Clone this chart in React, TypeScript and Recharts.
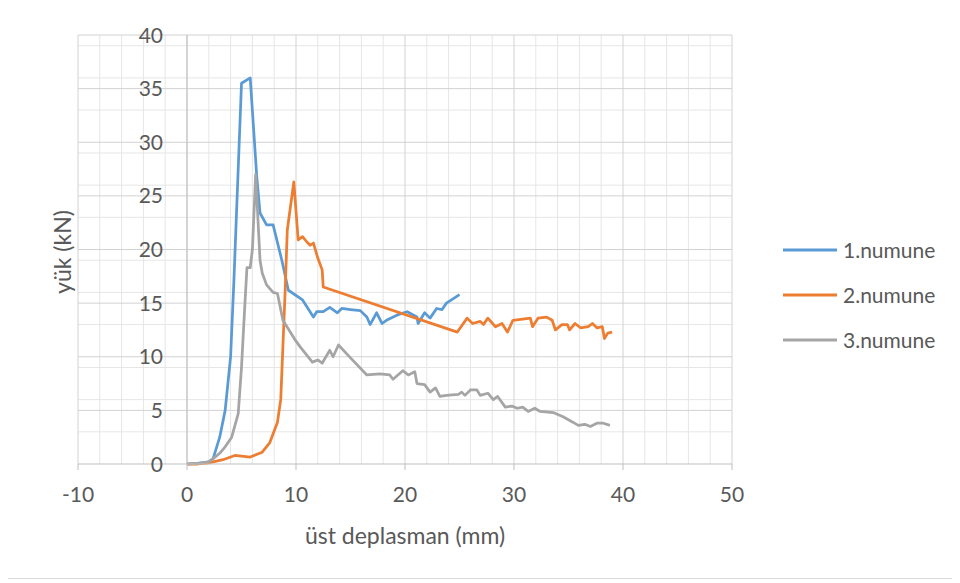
import React from "react";
import {
  LineChart,
  Line,
  XAxis,
  YAxis,
  CartesianGrid,
  ReferenceLine,
  Legend,
} from "recharts";

// 1.numune
const s1X = [0, 1, 2, 2.4, 3.0, 3.5, 4.0, 4.3, 5.0, 5.8, 6.4, 6.7, 7.3, 7.9, 8.7, 9.3, 10.6, 11.6, 11.9, 12.5, 13.1, 13.8, 14.2, 15.0, 15.9, 16.5, 16.8, 17.4, 17.9, 18.3, 19.3, 20.2, 21.1, 21.2, 21.8, 22.3, 22.9, 23.4, 23.8, 25.0];
const s1Y = [0, 0.05, 0.2, 0.5, 2.5, 5.0, 10.0, 17.0, 35.5, 36.0, 26.8, 23.4, 22.3, 22.3, 19.0, 16.2, 15.3, 13.7, 14.2, 14.2, 14.6, 14.1, 14.5, 14.4, 14.3, 13.7, 13.0, 14.1, 13.1, 13.4, 13.9, 14.2, 13.7, 13.1, 14.1, 13.6, 14.5, 14.4, 15.0, 15.8];

// 2.numune
const s2X = [0, 1, 2, 3.3, 4.4, 5.8, 6.9, 7.6, 8.3, 8.6, 8.8, 9.0, 9.2, 9.8, 10.2, 10.6, 11.0, 11.3, 11.6, 12.0, 12.4, 12.5, 24.8, 25.7, 26.2, 26.9, 27.2, 27.6, 28.3, 28.9, 29.4, 29.9, 31.5, 31.7, 32.2, 33.0, 33.5, 33.8, 34.4, 34.9, 35.1, 35.6, 36.1, 36.8, 37.2, 37.6, 38.1, 38.3, 38.6, 39.0];
const s2Y = [0, 0, 0.1, 0.4, 0.8, 0.65, 1.1, 2.0, 3.9, 6.0, 11.0, 16.0, 21.8, 26.3, 20.9, 21.2, 20.7, 20.4, 20.6, 19.2, 18.1, 16.5, 12.3, 13.6, 13.1, 13.3, 13.0, 13.6, 12.8, 13.1, 12.3, 13.4, 13.6, 12.8, 13.6, 13.7, 13.4, 12.5, 13.0, 13.0, 12.5, 13.1, 12.7, 12.8, 13.1, 12.7, 12.8, 11.7, 12.2, 12.3];

// 3.numune
const s3X = [0, 1, 2, 2.4, 3.0, 3.5, 4.1, 4.7, 5.0, 5.3, 5.5, 5.8, 6.0, 6.3, 6.7, 6.9, 7.3, 7.9, 8.3, 8.8, 9.9, 10.4, 11.5, 12.0, 12.4, 13.1, 13.4, 13.9, 15.0, 16.5, 17.7, 18.6, 18.9, 19.8, 20.3, 20.9, 21.1, 21.8, 22.3, 22.8, 23.2, 23.8, 24.9, 25.2, 25.5, 26.0, 26.6, 26.9, 27.6, 28.1, 28.5, 29.2, 29.8, 30.3, 30.8, 31.3, 31.9, 32.4, 33.6, 34.5, 35.4, 35.9, 36.5, 37.0, 37.6, 38.2, 38.8];
const s3Y = [0, 0.05, 0.2, 0.5, 1.0, 1.6, 2.5, 4.7, 9.0, 14.7, 18.3, 18.3, 20.0, 27.0, 19.0, 17.8, 16.7, 16.0, 15.9, 13.4, 11.6, 10.9, 9.5, 9.7, 9.4, 10.6, 10.0, 11.1, 9.9, 8.3, 8.4, 8.3, 7.9, 8.7, 8.3, 8.6, 7.5, 7.4, 6.7, 7.1, 6.3, 6.4, 6.5, 6.7, 6.4, 6.9, 6.9, 6.4, 6.6, 6.0, 6.3, 5.3, 5.4, 5.2, 5.3, 4.9, 5.2, 4.9, 4.8, 4.4, 3.9, 3.6, 3.7, 3.5, 3.8, 3.8, 3.6];

const seriesNames = ["1.numune", "2.numune", "3.numune"];
const seriesColors = ["#5B9BD5", "#ED7D31", "#A5A5A5"];

const xTicks = [-10, 0, 10, 20, 30, 40, 50];
const yTicks = [0, 5, 10, 15, 20, 25, 30, 35, 40];
const xMinor = [-8, -6, -4, -2, 2, 4, 6, 8, 12, 14, 16, 18, 22, 24, 26, 28, 32, 34, 36, 38, 42, 44, 46, 48];
const yMinor = [1, 2, 3, 4, 6, 7, 8, 9, 11, 12, 13, 14, 16, 17, 18, 19, 21, 22, 23, 24, 26, 27, 28, 29, 31, 32, 33, 34, 36, 37, 38, 39];

const zip = (xs: number[], ys: number[]) => xs.map((x, i) => ({ x, y: ys[i] }));
const series = [zip(s1X, s1Y), zip(s2X, s2Y), zip(s3X, s3Y)];

const W = 948;
const H = 571;
const Y_AXIS_W = 30;
const X_AXIS_H = 40;
const margin = { top: 28, right: 223, bottom: 114 - X_AXIS_H, left: 71 - Y_AXIS_W };
const plotLeft = margin.left + Y_AXIS_W;
const plotW = W - plotLeft - margin.right;
const xMin = -10;
const xMax = 50;
// y axis crosses at x = 0, labels sit just left of it
const zeroX = plotLeft + (plotW * (0 - xMin)) / (xMax - xMin);

const FONT = "Lato, 'Open Sans', sans-serif";
const TEXT = "#595959";

const YTick = (props: any) => {
  const { y, payload } = props;
  return (
    <text x={zeroX - 24} y={y} dy="0.36em" textAnchor="end" fill={TEXT} fontSize={21} fontFamily={FONT}>
      {payload.value}
    </text>
  );
};

const LegendBox = () => (
  <div style={{ fontFamily: FONT, fontSize: 21, color: TEXT }}>
    {seriesNames.map((n, i) => (
      <div key={n} style={{ display: "flex", alignItems: "center", height: 45, lineHeight: 1.2 }}>
        <svg width={54} height={4} style={{ display: "block" }}>
          <line x1={0} y1={2} x2={54} y2={2} stroke={seriesColors[i]} strokeWidth={3} />
        </svg>
        <span style={{ marginLeft: 6 }}>{n}</span>
      </div>
    ))}
  </div>
);

export default function App() {
  return (
    <div
      style={{
        position: "relative",
        marginLeft: -2,
        marginTop: -2,
        width: W,
        height: H,
        border: "1px solid #d9d9d9",
        background: "#fff",
      }}
    >
      <LineChart width={W} height={H} margin={margin}>
        <CartesianGrid stroke="#e6e6e6" horizontalValues={yMinor} verticalValues={xMinor} />
        <CartesianGrid stroke="#d2d2d2" horizontalValues={yTicks.slice(1)} verticalValues={xTicks} />
        <XAxis
          type="number"
          dataKey="x"
          domain={[xMin, xMax]}
          ticks={xTicks}
          allowDataOverflow
          height={X_AXIS_H}
          stroke="#bfbfbf"
          tickSize={6}
          tickMargin={17}
          tick={{ fill: TEXT, fontSize: 21, fontFamily: FONT }}
        />
        <YAxis
          type="number"
          dataKey="y"
          domain={[0, 40]}
          ticks={yTicks}
          width={Y_AXIS_W}
          axisLine={false}
          tickLine={false}
          tick={<YTick />}
        />
        <ReferenceLine x={0} stroke="#bfbfbf" />
        <Legend
          layout="vertical"
          align="center"
          verticalAlign="middle"
          content={<LegendBox />}
          wrapperStyle={{ left: 776, top: 220, width: 170 }}
        />
        {series.map((d, i) => (
          <Line
            key={seriesNames[i]}
            data={d}
            dataKey="y"
            name={seriesNames[i]}
            type="linear"
            stroke={seriesColors[i]}
            strokeWidth={2.75}
            strokeLinejoin="round"
            dot={false}
            isAnimationActive={false}
          />
        ))}
      </LineChart>
      <div
        style={{
          position: "absolute",
          left: 56,
          top: 245,
          transform: "translate(-50%, -50%) rotate(-90deg)",
          whiteSpace: "nowrap",
          fontFamily: FONT,
          fontSize: 23,
          lineHeight: 1.2,
          color: TEXT,
        }}
      >
        yük (kN)
      </div>
      <div
        style={{
          position: "absolute",
          left: 398,
          top: 515,
          transform: "translateX(-50%)",
          whiteSpace: "nowrap",
          fontFamily: FONT,
          fontSize: 23,
          lineHeight: 1.2,
          color: TEXT,
        }}
      >
        üst deplasman (mm)
      </div>
    </div>
  );
}
